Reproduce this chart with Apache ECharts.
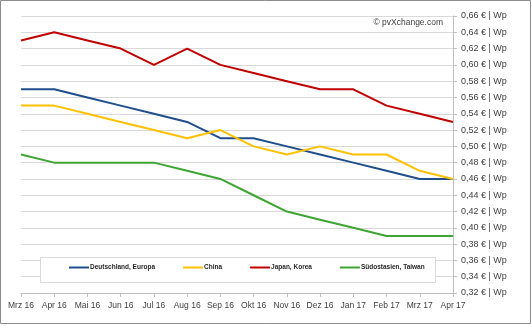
<!DOCTYPE html>
<html>
<head>
<meta charset="utf-8">
<script src="https://cdn.jsdelivr.net/npm/echarts@6/dist/echarts.min.js"></script>
<style>
  html, body { margin: 0; padding: 0; background: #fff; }
  #chart { width: 532px; height: 326px; }
</style>
</head>
<body>
<div id="chart"></div>
<script>
// Monthly module prices (€/Wp) by origin region
const months = ['Mrz 16', 'Apr 16', 'Mai 16', 'Jun 16', 'Jul 16', 'Aug 16', 'Sep 16',
                'Okt 16', 'Nov 16', 'Dez 16', 'Jan 17', 'Feb 17', 'Mrz 17', 'Apr 17'];
const deutschland = [0.57, 0.57, 0.56, 0.55, 0.54, 0.53, 0.51, 0.51, 0.50, 0.49, 0.48, 0.47, 0.46, 0.46];
const china       = [0.55, 0.55, 0.54, 0.53, 0.52, 0.51, 0.52, 0.50, 0.49, 0.50, 0.49, 0.49, 0.47, 0.46];
const japanKorea  = [0.63, 0.64, 0.63, 0.62, 0.60, 0.62, 0.60, 0.59, 0.58, 0.57, 0.57, 0.55, 0.54, 0.53];
const suedostasien = [0.49, 0.48, 0.48, 0.48, 0.48, 0.47, 0.46, 0.44, 0.42, 0.41, 0.40, 0.39, 0.39, 0.39];

const seriesNames = ['Deutschland, Europa', 'China', 'Japan, Korea', 'Südostasien, Taiwan'];
const seriesData = [deutschland, china, japanKorea, suedostasien];
const colors = ['#1F4E8C', '#FFC000', '#C00000', '#3DA532'];

const font = "'Liberation Sans', Arial, sans-serif";
const textColor = '#404040';

const chart = echarts.init(document.getElementById('chart'), null, { renderer: 'canvas' });
chart.setOption({
  animation: false,
  grid: { left: 21, right: 79, top: 16, bottom: 33, containLabel: false },
  xAxis: {
    type: 'category',
    data: months,
    boundaryGap: false,
    axisLine: { lineStyle: { color: '#BFBFBF', width: 1 } },
    axisTick: { show: true, length: 4, interval: 0, lineStyle: { color: '#BFBFBF' } },
    axisLabel: { interval: 0, color: textColor, fontFamily: font, fontSize: 8.5, margin: 8 },
    splitLine: { show: false }
  },
  yAxis: {
    type: 'value',
    position: 'right',
    min: 0.32,
    max: 0.66,
    interval: 0.02,
    axisLine: { show: true, lineStyle: { color: '#BFBFBF', width: 1 } },
    axisTick: { show: true, length: 4, lineStyle: { color: '#BFBFBF' } },
    axisLabel: {
      color: textColor, fontFamily: font, fontSize: 9, margin: 8,
      formatter: v => v.toFixed(2).replace('.', ',') + ' € | Wp'
    },
    splitLine: { show: true, lineStyle: { color: '#D9D9D9', width: 1 } }
  },
  legend: {
    data: seriesNames,
    left: 69,
    top: 264,
    itemWidth: 20,
    itemHeight: 2,
    itemGap: 28,
    icon: 'rect',
    padding: 0,
    z: 6,
    textStyle: { fontFamily: font, fontSize: 6.5, fontWeight: 'bold', color: '#262626', padding: [0, 0, 0, -4] }
  },
  graphic: [
    {
      type: 'rect', z: 5,
      shape: { x: 40.5, y: 257.5, width: 395, height: 25 },
      style: { fill: '#FFFFFF', stroke: '#D9D9D9', lineWidth: 1 }
    },
    {
      type: 'text', z: 5,
      style: {
        x: 443, y: 23, text: '© pvXchange.com', align: 'right', verticalAlign: 'middle',
        font: '8.5px ' + font, fill: textColor
      }
    },
    {
      type: 'rect', z: 10, silent: true,
      shape: { x: 0.5, y: 0.5, width: 530, height: 323 },
      style: { fill: 'none', stroke: '#8C8C8C', lineWidth: 1 }
    }
  ],
  series: seriesData.map((d, i) => ({
    name: seriesNames[i],
    type: 'line',
    data: d,
    symbol: 'none',
    color: colors[i],
    lineStyle: { width: 2, color: colors[i] },
    z: 2
  }))
});
</script>
</body>
</html>
